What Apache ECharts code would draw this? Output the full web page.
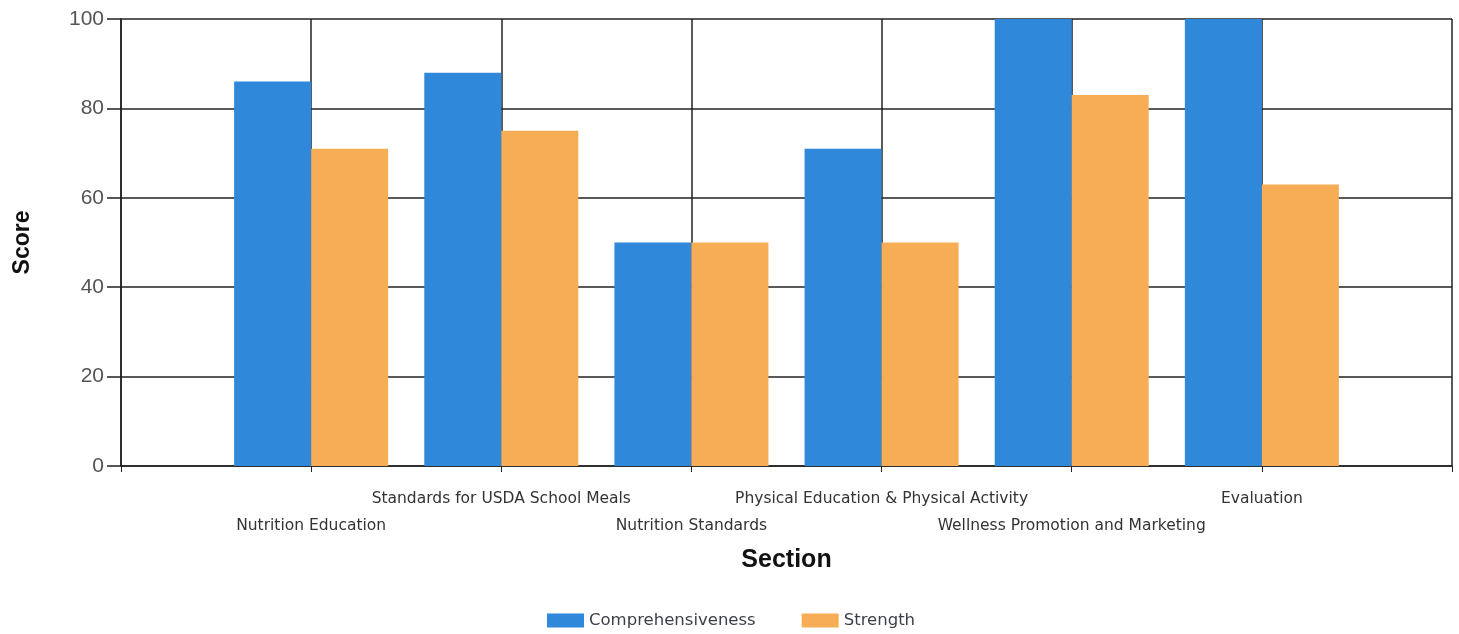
<!DOCTYPE html>
<html>
<head>
<meta charset="utf-8">
<script src="https://cdn.jsdelivr.net/npm/echarts@6/dist/echarts.min.js"></script>
<style>
  html, body { margin: 0; padding: 0; background: #fff; }
  #chart { width: 1459px; height: 634px; }
</style>
</head>
<body>
<div id="chart"></div>
<script>
// sections (blank slots at both ends keep the gridline layout of the original)
const sections = ['', 'Nutrition Education', 'Standards for USDA School Meals', 'Nutrition Standards',
  'Physical Education & Physical Activity', 'Wellness Promotion and Marketing', 'Evaluation', '']
const comprehensiveness = [null, 86, 88, 50, 71, 100, 100, null]
const strength = [null, 71, 75, 50, 50, 83, 63, null]
const scoreTicks = [0, 20, 40, 60, 80, 100]

const chart = echarts.init(document.getElementById('chart'))

const options = {
  animation: false,
  textStyle: { fontFamily: 'DejaVu Sans, Verdana, sans-serif' },
  grid: {
    left: 121,
    right: 7,
    top: 19,
    bottom: 168,
    outerBoundsMode: 'none', // keep the plot box exactly where it is
  },
  legend: {
    data: ['Comprehensiveness', 'Strength'],
    bottom: 0,
    left: 542,
    icon: 'rect',
    itemWidth: 37,
    itemHeight: 14,
    itemGap: 46,
    textStyle: { color: '#3a3f4a', fontSize: 16.5 },
  },
  xAxis: {
    type: 'category',
    data: sections,
    boundaryGap: false,
    name: 'Section',
    nameLocation: 'middle',
    nameGap: 82,
    nameTextStyle: { fontSize: 25, fontWeight: 'bold', color: '#111', fontFamily: 'Liberation Sans, Arial, sans-serif' },
    axisLine: { lineStyle: { color: '#222', width: 1.5 } },
    axisTick: { show: true, length: 6, lineStyle: { color: '#222' } },
    splitLine: { show: true, lineStyle: { color: '#222', width: 1.5 } },
    axisLabel: {
      interval: 0,
      margin: 19,
      fontSize: 15.5,
      lineHeight: 27,
      color: '#333',
      formatter: (value, idx) => (idx % 2 === 1 ? '\n' + value : value),
    },
  },
  yAxis: {
    type: 'value',
    min: scoreTicks[0],
    max: scoreTicks[scoreTicks.length - 1],
    interval: 20,
    name: 'Score',
    nameLocation: 'middle',
    nameGap: 87,
    nameTextStyle: { fontSize: 23, fontWeight: 'bold', color: '#111', fontFamily: 'Liberation Sans, Arial, sans-serif' },
    axisLine: { show: true, lineStyle: { color: '#222', width: 1.5 } },
    axisTick: { show: true, length: 14, lineStyle: { color: '#222', width: 1.5 } },
    splitLine: { show: true, lineStyle: { color: '#222', width: 1.5 } },
    axisLabel: { fontSize: 21, color: '#555', margin: 17, fontFamily: 'Liberation Sans, Arial, sans-serif' },
  },
  series: [
    {
      name: 'Comprehensiveness',
      type: 'bar',
      data: comprehensiveness,
      barGap: 0,
      barCategoryGap: '19%',
      itemStyle: { color: '#2f88d9' },
    },
    {
      name: 'Strength',
      type: 'bar',
      data: strength,
      barGap: 0,
      barCategoryGap: '19%',
      itemStyle: { color: '#f7ad55' },
    },
  ],
}

chart.setOption(options, true)
</script>
</body>
</html>
